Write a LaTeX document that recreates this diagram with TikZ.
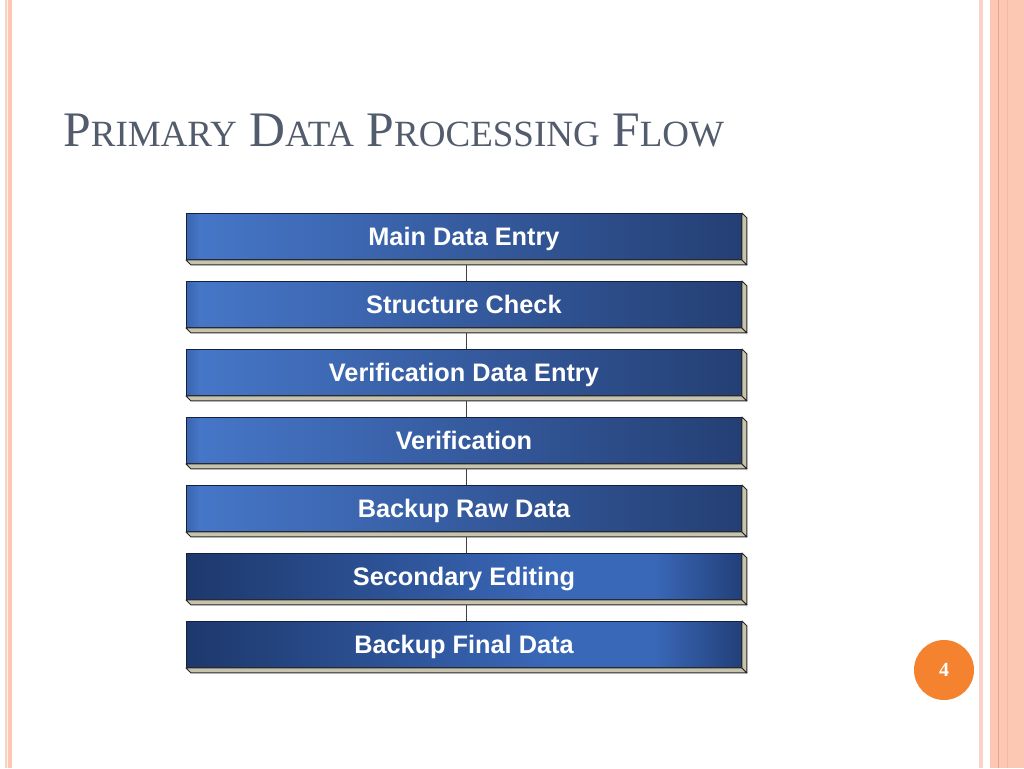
\documentclass[tikz,border=0pt]{standalone}
\usepackage{fontspec}
\setmainfont{Liberation Serif}
\newfontfamily\arialf{Liberation Sans}
\usetikzlibrary{calc}
\definecolor{ttl}{RGB}{82,92,108}
\definecolor{bAa}{HTML}{3A64AE}
\definecolor{bAb}{HTML}{4676C8}
\definecolor{bAc}{HTML}{243F74}
\definecolor{bBa}{HTML}{1D386C}
\definecolor{bBb}{HTML}{3A68B9}
\definecolor{bBc}{HTML}{22407A}
\definecolor{extc}{HTML}{C6C3AE}
\definecolor{edgec}{HTML}{14203F}
\definecolor{stripeA}{HTML}{FAD3C6}
\definecolor{stripeB}{HTML}{FCC8B4}
\definecolor{stripeL}{HTML}{E9A58C}
\definecolor{stripeM}{HTML}{F4B9A3}
\definecolor{cream}{HTML}{FDF1E8}
\definecolor{orangec}{HTML}{F5822F}
\pgfdeclarehorizontalshading{barA}{100bp}{color(0bp)=(bAa); color(25bp)=(bAa); color(26.2bp)=(bAb); color(75bp)=(bAc); color(100bp)=(bAc)}
\pgfdeclarehorizontalshading{barB}{100bp}{color(0bp)=(bBa); color(25bp)=(bBa); color(58bp)=(bBb); color(67bp)=(bBb); color(75bp)=(bBc); color(100bp)=(bBc)}
\tikzset{
  front/.style={minimum width=555pt, minimum height=46pt, inner sep=0pt, anchor=north west,
    draw=edgec, line width=0.9pt, text=white, font=\arialf\bfseries\fontsize{25.3}{30}\selectfont,
    text height=18pt, text depth=0pt},
  frontA/.style={front, shading=barA},
  frontB/.style={front, shading=barB},
  ext/.style={fill=extc, draw=black!85, line width=0.9pt, line join=round},
  conn/.style={draw=black!75, line width=1pt},
}
\newcommand{\extrude}[1]{%
  \path[ext] (#1.south west) -- (#1.south east) -- ($(#1.south east)+(5,5)$) -- ($(#1.south west)+(5,5)$) -- cycle;
  \path[ext] (#1.north east) -- ($(#1.north east)+(5,5)$) -- ($(#1.south east)+(5,5)$) -- (#1.south east) -- cycle;}
\newcommand{\BigC}[1]{{\fontsize{49.7}{55}\selectfont #1}}
\newcommand{\SmC}[1]{{\fontsize{37}{40}\selectfont #1}}
\begin{document}
\begin{tikzpicture}[x=1pt,y=-1pt]
\useasboundingbox (0,0) rectangle (1024,768);
\fill[white] (0,0) rectangle (1024,768);
% left border
\fill[stripeA] (5,0) rectangle (7,768);
\fill[cream] (7,0) rectangle (8,768);
\fill[stripeB] (8,0) rectangle (12,768);
% right border
\fill[stripeA] (979,0) rectangle (983,768);
\fill[stripeB] (990,0) rectangle (1024,768);
\fill[stripeL] (998,0) rectangle (999.3,768);
\fill[stripeM] (1007,0) rectangle (1008.2,768);
% title
\node[anchor=base west, text=ttl, inner sep=0pt] (title) at (63,146)
  {\BigC{P}\SmC{RIMARY}\BigC{ }\BigC{D}\SmC{ATA}\BigC{ }\BigC{P}\SmC{ROCESSING}\BigC{ }\BigC{F}\SmC{LOW}};
\coordinate (cx) at (466,0);
% boxes
\node[frontA] (a) at (186,213) {Main Data Entry};
\node[frontA] (b) at (186,281) {Structure Check};
\node[frontA] (c) at (186,349) {Verification Data Entry};
\node[frontA] (d) at (186,417) {Verification};
\node[frontA] (e) at (186,485) {Backup Raw Data};
\node[frontB] (f) at (186,553) {Secondary Editing};
\node[frontB] (g) at (186,621) {Backup Final Data};
\foreach \n in {a,b,c,d,e,f,g}{\extrude{\n}}
% connectors
\foreach \u/\v in {a/b,b/c,c/d,d/e,e/f,f/g}{
  \draw[conn] ($(\u.south -| cx)+(0,5.4)$) -- (\v.north -| cx);
}
% page number
\node[circle, fill=orangec, minimum size=60pt, inner sep=0pt, text=white,
      font=\bfseries\fontsize{20}{24}\selectfont] (pg) at (944,670) {4};
\end{tikzpicture}
\end{document}
